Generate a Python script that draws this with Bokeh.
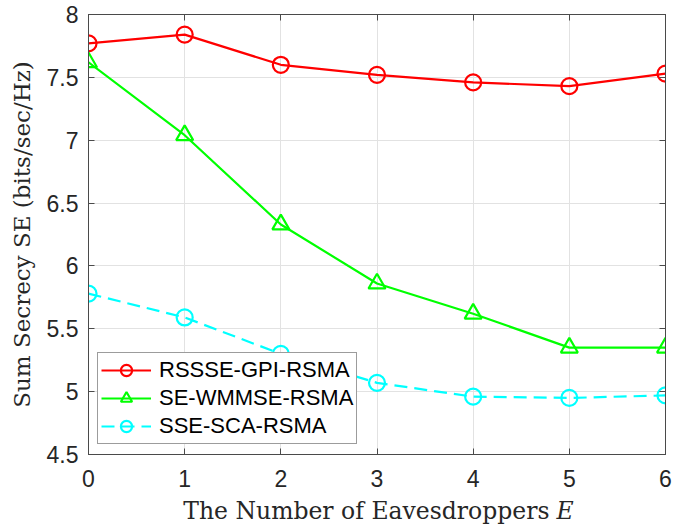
from bokeh.plotting import figure
from bokeh.layouts import column
from bokeh.models import LinearAxis, Range1d, Label, FixedTicker, Legend
from bokeh.embed import file_html
from bokeh.resources import INLINE

# Number of eavesdroppers
eves = [0, 1, 2, 3, 4, 5, 6]

# Sum secrecy SE (bits/sec/Hz) for each scheme
rssse_gpi = [7.77, 7.84, 7.60, 7.52, 7.46, 7.43, 7.53]
se_wmmse = [7.62, 7.04, 6.33, 5.86, 5.62, 5.35, 5.35]
sse_sca = [5.78, 5.59, 5.30, 5.07, 4.96, 4.95, 4.97]

names = ["RSSSE-GPI-RSMA", "SE-WMMSE-RSMA", "SSE-SCA-RSMA"]
y_ticks = [4.5, 5, 5.5, 6, 6.5, 7, 7.5, 8]

AX = "#4a4a4a"
TXT = "#262626"
TICK_FONT = "Liberation Sans"
LABEL_FONT = "DejaVu Serif"
W = 675
H_MAIN, H_XLABEL = 498, 26
LEFT, RIGHT = 88, 10

p = figure(width=W, height=H_MAIN, output_backend="svg", toolbar_location=None,
           x_range=Range1d(0, 6), y_range=Range1d(4.5, 8),
           min_border_left=LEFT, min_border_right=RIGHT, min_border_top=14,
           min_border_bottom=44)

p.background_fill_color = "white"
p.border_fill_color = "white"
p.outline_line_color = AX
p.outline_line_width = 1

for ax in (p.xaxis[0], p.yaxis[0]):
    ax.axis_line_color = AX
    ax.major_tick_line_color = AX
    ax.major_tick_in = 6
    ax.major_tick_out = 0
    ax.minor_tick_line_color = None
    ax.major_label_text_font = TICK_FONT
    ax.major_label_text_font_size = "23px"
    ax.major_label_text_color = TXT

p.xaxis[0].ticker = FixedTicker(ticks=eves)
p.yaxis[0].ticker = FixedTicker(ticks=y_ticks)
p.yaxis[0].major_label_overrides = {t: f"{t:g}" for t in y_ticks}
p.xaxis[0].major_label_standoff = 15
p.yaxis[0].major_label_standoff = 10

p.yaxis[0].axis_label = "Sum Secrecy SE (bits/sec/Hz)"
p.yaxis[0].axis_label_text_font = LABEL_FONT
p.yaxis[0].axis_label_text_font_size = "23px"
p.yaxis[0].axis_label_text_font_style = "normal"
p.yaxis[0].axis_label_text_color = TXT
p.yaxis[0].axis_label_standoff = 9

# Box ticks on the top and right edges (no labels)
top = LinearAxis(ticker=FixedTicker(ticks=eves),
                 major_label_overrides={t: "" for t in eves})
right = LinearAxis(ticker=FixedTicker(ticks=y_ticks),
                   major_label_overrides={t: "" for t in y_ticks})
for ax in (top, right):
    ax.axis_line_color = AX
    ax.major_tick_line_color = AX
    ax.major_tick_in = 6
    ax.major_tick_out = 0
    ax.minor_tick_line_color = None
    ax.major_label_standoff = 0
p.add_layout(top, "above")
p.add_layout(right, "right")

p.grid.grid_line_color = "#e2e2e2"
p.grid.grid_line_width = 1
p.xgrid.ticker = FixedTicker(ticks=eves)
p.ygrid.ticker = FixedTicker(ticks=y_ticks)

RED, GREEN, CYAN = "#ff0000", "#00ff00", "#00ffff"
r1l = p.line(eves, rssse_gpi, line_color=RED, line_width=2.2)
r1m = p.scatter(eves, rssse_gpi, marker="circle", size=16, fill_color=None,
                line_color=RED, line_width=2.2)
r2l = p.line(eves, se_wmmse, line_color=GREEN, line_width=2.2)
r2m = p.scatter(eves, se_wmmse, marker="triangle", size=17, fill_color=None,
                line_color=GREEN, line_width=2.2)
r3l = p.line(eves, sse_sca, line_color=CYAN, line_width=2.2, line_dash="13 7")
r3m = p.scatter(eves, sse_sca, marker="circle", size=16, fill_color=None,
                line_color=CYAN, line_width=2.2)

legend = Legend(items=[(names[0], [r1l, r1m]), (names[1], [r2l, r2m]),
                       (names[2], [r3l, r3m])],
                location=(9, 10))
legend.label_text_font = TICK_FONT
legend.label_text_font_size = "22px"
legend.label_text_color = "#000000"
legend.glyph_width = 50
legend.glyph_height = 28
legend.label_height = 28
legend.label_standoff = 8
legend.spacing = 0
legend.padding = 3
legend.margin = 0
legend.border_line_color = "#3a3a3a"
legend.border_line_width = 1
legend.background_fill_color = "white"
legend.background_fill_alpha = 1
p.add_layout(legend, "center")

# Strip under the axes carrying the x-axis title (with an italic E).
# Its frame lines up with the main frame, so the x range is in page pixels.
xt = figure(width=W, height=H_XLABEL, output_backend="svg", toolbar_location=None,
            title=None, x_range=Range1d(LEFT, W - RIGHT),
            y_range=Range1d(0, H_XLABEL),
            min_border=0, x_axis_type=None, y_axis_type=None)
xt.outline_line_color = None
xt.grid.visible = False
xt.background_fill_color = "white"
xt.border_fill_color = "white"
xt.add_layout(Label(x=549, y=14, text="The Number of Eavesdroppers",
                    text_align="right", text_baseline="middle",
                    text_font=LABEL_FONT, text_font_size="23.5px",
                    text_color=TXT))
xt.add_layout(Label(x=556, y=14, text="E", text_align="left",
                    text_baseline="middle", text_font=LABEL_FONT,
                    text_font_style="italic", text_font_size="23.5px",
                    text_color=TXT))

layout = column(p, xt, spacing=0)
open("out.html", "w").write(file_html(layout, INLINE))
